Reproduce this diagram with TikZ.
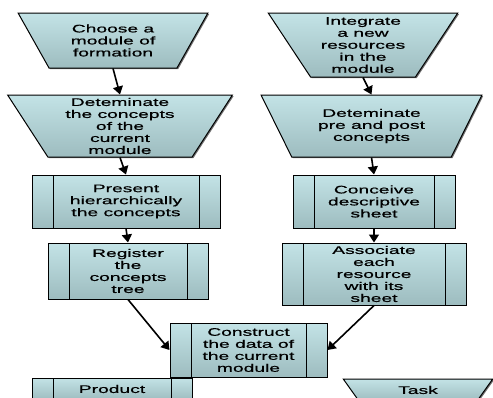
\documentclass[tikz,border=0pt]{standalone}
\usepackage{fontspec}
\newfontfamily\boxfont[FakeStretch=1.75, FakeBold=0.6]{Liberation Sans}
\usetikzlibrary{arrows.meta,shapes.geometric,shadows}

\definecolor{boxtop}{HTML}{C3E3E6}
\definecolor{boxbot}{HTML}{9DBCBF}

\begin{document}
\begin{tikzpicture}[x=1pt, y=-1pt,
  base/.style={draw=black, line width=1pt, top color=boxtop, bottom color=boxbot,
    inner sep=0pt, align=center, font={\fontsize{11}{12}\boxfont},
    drop shadow={shadow xshift=1.2pt, shadow yshift=-1.2pt, fill=black!70, opacity=0.8}},
  manual/.style={base, trapezium, shape border rotate=180, trapezium stretches=true},
  proc/.style={base, rectangle, path picture={
      \draw[line width=1pt] ([xshift=21pt]path picture bounding box.north west) -- ([xshift=21pt]path picture bounding box.south west);
      \draw[line width=1pt] ([xshift=-21pt]path picture bounding box.north east) -- ([xshift=-21pt]path picture bounding box.south east);}},
  flow/.style={line width=1.6pt, -{Triangle[width=10pt,length=8pt]}}
]
  \path[use as bounding box, clip] (0,0) rectangle (493,397);

  % left branch
  \node[manual, trapezium left angle=57.5, trapezium right angle=57.5, minimum width=190pt, minimum height=55pt] (choose) at (113,40.5) {Choose a\\module of\\formation};
  \node[manual, trapezium left angle=61.5, trapezium right angle=61.5, minimum width=225pt, minimum height=62pt] (concepts) at (120,126) {Deteminate\\the concepts\\of the\\current\\module};
  \node[proc, minimum width=188pt, minimum height=53pt] (present) at (126,201.5) {Present\\hierarchically\\the concepts};
  \node[proc, minimum width=160pt, minimum height=56pt] (register) at (128,271) {Register\\the\\concepts\\tree};

  % right branch
  \node[manual, trapezium left angle=58.5, trapezium right angle=58.5, minimum width=190pt, minimum height=64pt] (integrate) at (363,45) {Integrate\\a new\\resources\\in the\\module};
  \node[manual, trapezium left angle=59, trapezium right angle=59, minimum width=221pt, minimum height=62pt] (prepost) at (371.5,126) {Deteminate\\pre and post\\concepts};
  \node[proc, minimum width=162pt, minimum height=53pt] (conceive) at (374,201.5) {Conceive\\descriptive\\sheet};
  \node[proc, minimum width=184pt, minimum height=62pt] (associate) at (374,274) {Associate\\each\\resource\\with its\\sheet};

  % join
  \node[proc, minimum width=157pt, minimum height=54pt] (construct) at (248.5,350) {Construct\\the data of\\the current\\module};
  \node[proc, minimum width=160pt, minimum height=22pt] (product) at (112,389) {Product};
  \node[manual, trapezium left angle=57, trapezium right angle=57, minimum width=150pt, minimum height=22pt] (task) at (418,390) {Task};

  \draw[flow] (choose.south) -- (concepts.north);
  \draw[flow] (concepts.south) -- (present.north);
  \draw[flow] (present.south) -- (register.north);
  \draw[flow] (register.south) -- (construct.west);

  \draw[flow] (integrate.south) -- (prepost.north);
  \draw[flow] (prepost.south) -- (conceive.north);
  \draw[flow] (conceive.south) -- (associate.north);
  \draw[flow] (associate.south) -- (construct.east);
\end{tikzpicture}
\end{document}
